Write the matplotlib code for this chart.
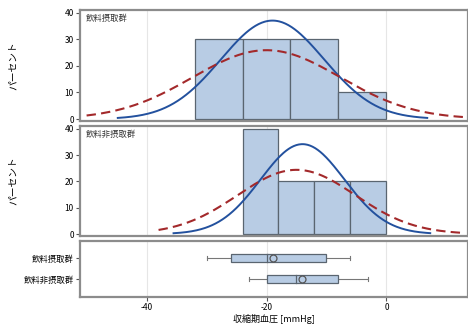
import numpy as np
import matplotlib
matplotlib.use("Agg")
import matplotlib.pyplot as plt

plt.rcParams['font.family'] = ['Noto Sans CJK JP', 'DejaVu Sans']

# --- data ---
groups = ["飲料摂取群", "飲料非摂取群"]

# histogram bins (mmHg) and percentages
bins_intake = [-32, -24, -16, -8, 0]
pct_intake = [30, 30, 30, 10]
bins_nointake = [-24, -18, -12, -6, 0]
pct_nointake = [40, 20, 20, 20]

# fitted curves: normal (solid) and kernel-like (dashed): centre, spread, drawn x-range
normal_intake = (-19.0, 8.6, -44.8, 6.8)
kernel_intake = (-20.0, 12.3, -50.0, 13.6)
normal_nointake = (-14.0, 7.0, -35.5, 7.3)
kernel_nointake = (-15.0, 9.8, -38.0, 12.3)

# box plot stats: min, q1, median, mean, q3, max
box_intake = [-30, -26, -20, -19, -10, -6]
box_nointake = [-23, -20, -15, -14, -8, -3]

XMIN, XMAX = -51.1, 13.6
BAR_FC = "#b8cce4"
BAR_EC = "#5a6570"
BLUE = "#23519e"
RED = "#a3292b"
FRAME = "#8c8c8c"


def style_frame(ax):
    for s in ax.spines.values():
        s.set_color(FRAME)
        s.set_linewidth(1.6)
    ax.tick_params(length=3, width=0.8, color="#555555", labelsize=6, pad=1.5)
    ax.set_xlim(XMIN, XMAX)
    for xv in (-40, -20, 0):
        ax.axvline(xv, color="#e6e6e6", lw=0.8, zorder=0)


def curve(ax, params, binw, **kw):
    mu, sd, x0, x1 = params
    x = np.linspace(x0, x1, 300)
    y = binw * 100 / (sd * np.sqrt(2 * np.pi)) * np.exp(-0.5 * ((x - mu) / sd) ** 2)
    ax.plot(x, y, **kw)


def hist_panel(ax, edges, pct, nparams, kparams, label):
    style_frame(ax)
    edges = np.array(edges, float)
    ax.bar(edges[:-1], pct, width=np.diff(edges), align="edge",
           color=BAR_FC, edgecolor=BAR_EC, linewidth=0.9, zorder=2)
    bw = edges[1] - edges[0]
    curve(ax, nparams, bw, color=BLUE, lw=1.4, zorder=3)
    curve(ax, kparams, bw, color=RED, lw=1.5, ls=(0, (4.5, 2.5)), zorder=3)
    ax.set_ylim(-0.75, 41.1)
    ax.set_yticks([0, 10, 20, 30, 40])
    ax.set_xticks([-40, -20, 0])
    ax.tick_params(axis="x", length=0, labelbottom=False)
    ax.set_ylabel("パーセント", fontsize=7)
    ax.yaxis.set_label_coords(-0.16, 0.5)
    ax.text(0.015, 0.965, label, transform=ax.transAxes, fontsize=6,
            va="top", ha="left", color="#333333")


fig = plt.figure(figsize=(4.68, 3.24), dpi=100)
ax1 = fig.add_axes([80 / 468, 1 - 121 / 324, 388 / 468, 111 / 324])
ax2 = fig.add_axes([80 / 468, 1 - 236 / 324, 388 / 468, 110 / 324])
ax3 = fig.add_axes([80 / 468, 1 - 297 / 324, 388 / 468, 56 / 324])

hist_panel(ax1, bins_intake, pct_intake, normal_intake, kernel_intake, groups[0])
hist_panel(ax2, bins_nointake, pct_nointake, normal_nointake, kernel_nointake, groups[1])

# box plot panel
style_frame(ax3)
for i, st in enumerate([box_intake, box_nointake]):
    mn, q1, med, mean, q3, mx = st
    h = 0.42
    ax3.add_patch(plt.Rectangle((q1, i - h / 2), q3 - q1, h, facecolor=BAR_FC,
                                edgecolor=BAR_EC, lw=0.9, zorder=2))
    ax3.plot([med, med], [i - h / 2, i + h / 2], color=BAR_EC, lw=0.9, zorder=3)
    ax3.plot([mn, q1], [i, i], color="#777777", lw=0.8, zorder=1)
    ax3.plot([q3, mx], [i, i], color="#777777", lw=0.8, zorder=1)
    for e in (mn, mx):
        ax3.plot([e, e], [i - 0.1, i + 0.1], color="#777777", lw=0.8)
    ax3.plot(mean, i, marker="o", ms=5, mfc=BAR_FC, mec="#555555", mew=0.9, zorder=4)
ax3.set_ylim(1.86, -0.81)
ax3.set_yticks([0, 1])
ax3.set_yticklabels(groups, fontsize=6)
ax3.set_xticks([-40, -20, 0])
ax3.set_xticklabels(["-40", "-20", "0"])
ax3.set_xlabel("収縮期血圧 [mmHg]", fontsize=6.5, labelpad=1)

fig.savefig("out.png", dpi=100)
